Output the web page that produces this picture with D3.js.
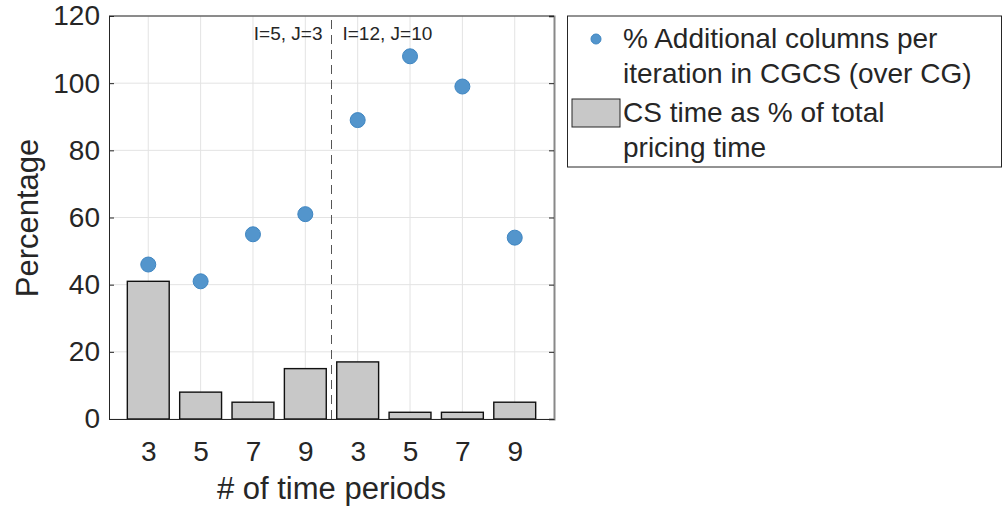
<!DOCTYPE html>
<html>
<head>
<meta charset="utf-8">
<script src="https://cdn.jsdelivr.net/npm/d3@7"></script>
<style>
  body { margin: 0; background: #fff; }
  text { font-family: "Liberation Sans", Arial, sans-serif; fill: #262626; }
</style>
</head>
<body>
<script>
// data
var tickLabels = ["3", "5", "7", "9", "3", "5", "7", "9"];
var csTime = [41, 8, 5, 15, 17, 2, 2, 5];
var addCols = [46, 41, 55, 61, 89, 108, 99, 54];
var yTicks = [0, 20, 40, 60, 80, 100, 120];
var groupLabels = ["I=5, J=3", "I=12, J=10"];
var splitAt = 4.5;

var svg = d3.select("body").append("svg")
    .attr("width", 1002)
    .attr("height", 512);

var x = d3.scaleLinear().domain([0.25, 8.75]).range([109, 554]);
var y = d3.scaleLinear().domain([0, 120]).range([419, 16]);
var idx = d3.range(1, tickLabels.length + 1);

// grid
svg.append("g").selectAll("line").data(idx).enter().append("line")
    .attr("x1", d => x(d)).attr("x2", d => x(d))
    .attr("y1", y(0)).attr("y2", y(120))
    .attr("stroke", "#e3e3e3").attr("stroke-width", 1);
svg.append("g").selectAll("line").data(yTicks).enter().append("line")
    .attr("x1", x.range()[0]).attr("x2", x.range()[1])
    .attr("y1", d => y(d)).attr("y2", d => y(d))
    .attr("stroke", "#e3e3e3").attr("stroke-width", 1);

// bars
var bw = (x(1) - x(0)) * 0.8;
svg.append("g").selectAll("rect").data(csTime).enter().append("rect")
    .attr("x", (d, i) => x(i + 1) - bw / 2)
    .attr("y", d => y(d))
    .attr("width", bw)
    .attr("height", d => y(0) - y(d))
    .attr("fill", "#c8c8c8")
    .attr("stroke", "#111")
    .attr("stroke-width", 1.4);

// divider
svg.append("line")
    .attr("x1", x(splitAt)).attr("x2", x(splitAt))
    .attr("y1", y(0)).attr("y2", y(120))
    .attr("stroke", "#555").attr("stroke-width", 1)
    .attr("stroke-dasharray", "9,6");

svg.append("text").attr("x", x(splitAt) - 9).attr("y", 40)
    .attr("text-anchor", "end").attr("font-size", 19).text(groupLabels[0]);
svg.append("text").attr("x", x(splitAt) + 11).attr("y", 40)
    .attr("font-size", 19).text(groupLabels[1]);

// points
svg.append("g").selectAll("circle").data(addCols).enter().append("circle")
    .attr("cx", (d, i) => x(i + 1))
    .attr("cy", d => y(d))
    .attr("r", 7.5)
    .attr("fill", "#5395cc")
    .attr("stroke", "#3f86c2")
    .attr("stroke-width", 1);

// axes box
var yAxis = d3.axisLeft(y).tickValues(yTicks).tickSize(-5).tickPadding(9);
var gy = svg.append("g").attr("transform", "translate(" + x.range()[0] + ",0)").call(yAxis);
gy.selectAll("text").attr("font-size", 28);
var gyr = svg.append("g").attr("transform", "translate(" + x.range()[1] + ",0)")
    .call(d3.axisRight(y).tickValues(yTicks).tickSize(-5).tickFormat(""));

var xAxis = d3.axisBottom(x).tickValues(idx).tickFormat((d, i) => tickLabels[i]).tickSize(0).tickPadding(22);
var gx = svg.append("g").attr("transform", "translate(0," + y(0) + ")").call(xAxis);
gx.selectAll("text").attr("font-size", 28);
svg.append("line").attr("x1", x.range()[0]).attr("x2", x.range()[1])
    .attr("y1", y(120)).attr("y2", y(120)).attr("stroke", "#262626");

[gy, gyr, gx].forEach(function(g) {
  g.select(".domain").attr("stroke", "#262626").attr("stroke-width", 1);
  g.selectAll(".tick line").attr("stroke", "#262626");
});
gyr.select(".domain").attr("stroke", "#888").attr("stroke-width", 2);

// axis titles
svg.append("text").attr("transform", "translate(38,218) rotate(-90)")
    .attr("text-anchor", "middle").attr("font-size", 31).text("Percentage");
svg.append("text").attr("x", x(4.5)).attr("y", 499)
    .attr("text-anchor", "middle").attr("font-size", 31).text("# of time periods");

// legend
var lg = svg.append("g");
lg.append("rect").attr("x", 567.5).attr("y", 16).attr("width", 434).attr("height", 151)
    .attr("fill", "#fff").attr("stroke", "#262626").attr("stroke-width", 1);
lg.append("circle").attr("cx", 596).attr("cy", 39).attr("r", 5)
    .attr("fill", "#5395cc").attr("stroke", "#3f86c2");
lg.append("rect").attr("x", 572).attr("y", 99).attr("width", 48).attr("height", 28)
    .attr("fill", "#c8c8c8").attr("stroke", "#262626");
var legLines = [["% Additional columns per", 48], ["iteration in CGCS (over CG)", 83],
                ["CS time as % of total", 122], ["pricing time", 157]];
lg.selectAll("text.l").data(legLines).enter().append("text")
    .attr("x", 623).attr("y", d => d[1]).attr("font-size", 28).text(d => d[0]);
</script>
</body>
</html>
